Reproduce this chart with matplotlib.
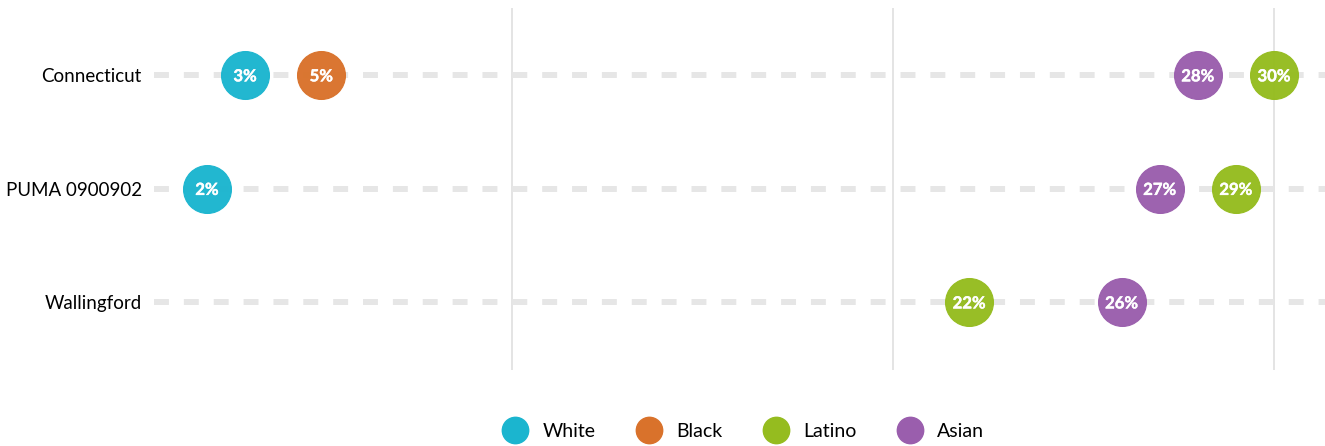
import matplotlib.pyplot as plt
import matplotlib.patheffects as pe
from matplotlib.lines import Line2D

plt.rcParams['font.family'] = ['Lato', 'DejaVu Sans']

places = ['Connecticut', 'PUMA 0900902', 'Wallingford']
groups = ['White', 'Black', 'Latino', 'Asian']
colors = ['#1bb5cf', '#d9722b', '#95bc1f', '#9a5ead']

# values in percent, None = not shown
white = [3, 2, None]
black = [5, None, None]
latino = [30, 29, 22]
asian = [28, 27, 26]
series = [white, black, latino, asian]

fig = plt.figure(figsize=(13.25, 4.46), dpi=100)
ax = fig.add_axes([0.1132, 0.170, 0.8868, 0.812])

ys = list(range(len(places)))

# dashed guide lines
for y in ys:
    ax.plot([0.6, 31.4], [y, y], color='#e6e6e6', lw=4.3,
            dashes=(2.5, 2.5), solid_capstyle='butt', zorder=1)

# vertical gridlines
for gx in [10, 20, 30]:
    ax.axvline(gx, color='#dcdcdc', lw=1.1, zorder=0)

bold = [pe.withStroke(linewidth=0.3, foreground='white')]
for vals, col in zip(series, colors):
    for y, v in zip(ys, vals):
        if v is None:
            continue
        ax.scatter(v, y, s=1190, color=col, edgecolors=col, linewidths=0.8,
                   zorder=3, alpha=0.97)
        ax.text(v, y + 0.012, f'{v}%', color='white', fontsize=12,
                fontweight='bold', path_effects=bold,
                ha='center', va='center', zorder=4)

ax.set_xlim(0.506, 31.34)
ax.set_ylim(2.6, -0.59)
ax.set_yticks(ys)
ax.set_yticklabels(places, fontsize=13.5)
ax.set_xticks([])
ax.tick_params(axis='y', length=0, pad=6)
for s in ax.spines.values():
    s.set_visible(False)

handles = [Line2D([], [], marker='o', linestyle='', markersize=19,
                  markerfacecolor=c, markeredgecolor=c) for c in colors]
fig.legend(handles, groups, loc='center', bbox_to_anchor=(0.5585, 0.032),
           ncol=4, frameon=False, fontsize=14, handletextpad=0.4,
           columnspacing=1.75)

fig.savefig('out.png', dpi=100)
